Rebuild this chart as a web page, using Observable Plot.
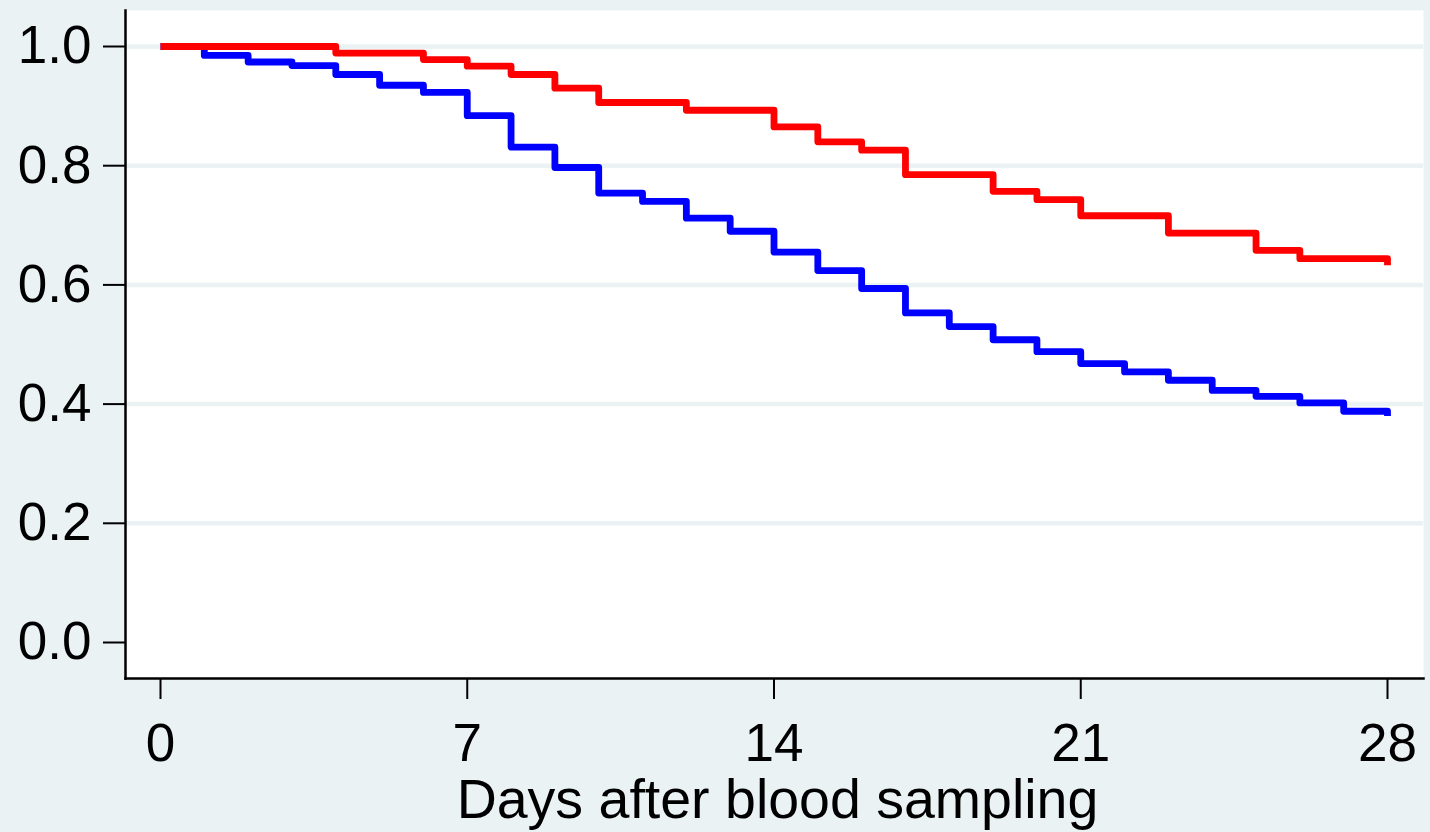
<!DOCTYPE html>
<html>
<head>
<meta charset="utf-8">
<script src="https://cdn.jsdelivr.net/npm/d3@7"></script>
<script src="https://cdn.jsdelivr.net/npm/@observablehq/plot@0.6"></script>
<style>
  html, body { margin: 0; padding: 0; background: #EAF2F3; }
  #chart svg { display: block; }
</style>
</head>
<body>
<div id="chart"></div>
<script>
const days = d3.range(0, 29);
const blueSurv = [1.0, 0.985, 0.974, 0.968, 0.953, 0.935, 0.923, 0.884, 0.831, 0.797,
  0.754, 0.740, 0.712, 0.690, 0.655, 0.624, 0.594, 0.553, 0.530, 0.508,
  0.488, 0.468, 0.454, 0.440, 0.423, 0.413, 0.402, 0.388, 0.380];
const redSurv = [1.0, 1.0, 1.0, 1.0, 0.989, 0.989, 0.978, 0.967, 0.953, 0.930,
  0.906, 0.906, 0.893, 0.893, 0.865, 0.840, 0.826, 0.785, 0.785, 0.757,
  0.743, 0.716, 0.716, 0.687, 0.687, 0.658, 0.644, 0.644, 0.633];
const xTicks = [0, 7, 14, 21, 28];
const yTicks = [0, 0.2, 0.4, 0.6, 0.8, 1.0];
const gridTicks = [0.2, 0.4, 0.6, 0.8, 1.0];
const xTitle = "Days after blood sampling";

const blueData = days.map((d, i) => ({day: d, s: blueSurv[i]}));
const redData = days.map((d, i) => ({day: d, s: redSurv[i]}));

const font = "'Liberation Sans', Arial, Helvetica, sans-serif";

const chart = Plot.plot({
  width: 1430,
  height: 832,
  marginLeft: 125,
  marginRight: 7,
  marginTop: 10,
  marginBottom: 154,
  style: {background: "#EAF2F3", fontFamily: font, fontSize: "53px", color: "black"},
  x: {domain: [0, 28], range: [160, 1387]},
  y: {domain: [0, 1], range: [642, 46]},
  marks: [
    Plot.frame({fill: "white", stroke: null}),
    Plot.gridY(gridTicks, {stroke: "#EAF2F3", strokeOpacity: 1, strokeWidth: 4.5}),
    Plot.line(blueData, {x: "day", y: "s", curve: "step-after", stroke: "#0000FF", strokeWidth: 6.8, strokeLinejoin: "round", strokeLinecap: "butt"}),
    Plot.line(redData, {x: "day", y: "s", curve: "step-after", stroke: "#FF0000", strokeWidth: 6.8, strokeLinejoin: "round", strokeLinecap: "butt"}),
    Plot.frame({anchor: "left", stroke: "black", strokeWidth: 2.5}),
    Plot.frame({anchor: "bottom", stroke: "black", strokeWidth: 2.5}),
    Plot.axisY(yTicks, {tickSize: 22, tickPadding: 12, tickFormat: d => d.toFixed(1), fontSize: 53, strokeWidth: 2, label: null}),
    Plot.axisX(xTicks, {tickSize: 21, tickPadding: 24, fontSize: 53, strokeWidth: 2, label: null}),
    Plot.text([xTitle], {text: d => d, frameAnchor: "bottom", lineAnchor: "bottom", dy: 139, dx: 3, fontSize: 55.5, fill: "black"})
  ]
});
document.getElementById("chart").appendChild(chart);
</script>
</body>
</html>
